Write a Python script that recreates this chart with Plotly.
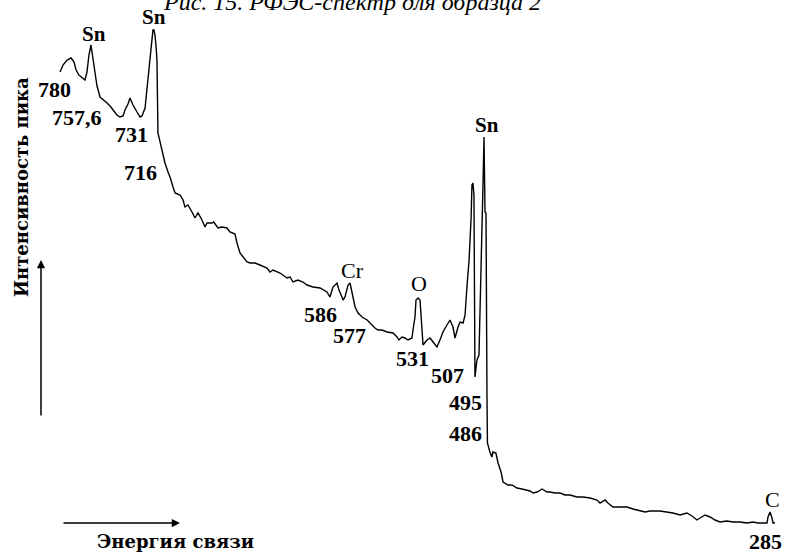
import plotly.graph_objects as go

# XPS survey spectrum: binding energy (eV) vs. peak intensity (arb. units)
binding_energy = [
    780.0, 777.9, 775.1, 772.3, 770.2, 768.8, 766.8, 764.7, 762.6, 761.2,
    759.8, 758.4, 757.0, 755.6, 754.2, 752.1, 749.3, 747.2, 745.1, 743.0,
    740.3, 738.2, 736.1, 734.7, 732.6, 731.2, 729.1, 726.3, 724.2, 722.8,
    720.7, 719.3, 718.0, 716.6, 715.9, 715.2, 714.5, 713.8, 713.1, 712.4,
    711.7, 710.3, 708.9, 706.8, 704.7, 703.3, 701.2, 699.8, 696.3, 694.2,
    692.9, 690.8, 688.0, 685.9, 683.8, 681.0, 678.9, 677.5, 674.0, 672.9,
    669.8, 667.1, 663.6, 661.5, 658.0, 656.6, 654.5, 652.4, 649.6, 647.5,
    644.0, 640.6, 635.7, 633.6, 631.5, 626.6, 624.5, 621.7, 619.6, 617.6,
    614.1, 610.6, 607.8, 603.6, 598.7, 593.9, 591.8, 589.7, 586.9, 585.5,
    583.4, 582.7, 581.3, 579.2, 577.8, 576.4, 575.7, 574.3, 572.2, 569.4,
    565.9, 562.5, 560.4, 558.3, 555.5, 552.0, 547.8, 545.0, 543.7, 541.6,
    539.5, 537.4, 534.6, 533.9, 532.5, 531.8, 530.4, 529.0, 528.3, 527.6,
    526.9, 524.1, 522.0, 519.9, 517.2, 515.1, 513.0, 510.2, 508.1, 506.0,
    504.6, 502.5, 501.1, 499.0, 497.6, 496.2, 494.8, 493.4, 492.8, 492.1,
    491.4, 490.7, 489.3, 487.9, 487.2, 485.8, 485.1, 484.4, 483.7, 483.0,
    482.3, 482.0, 480.3, 478.9, 478.2, 476.1, 474.6, 472.5, 471.1, 469.7,
    467.7, 464.9, 461.4, 457.9, 454.4, 452.3, 450.2, 447.4, 443.9, 440.5,
    438.4, 434.9, 431.4, 427.9, 424.4, 419.6, 415.4, 410.5, 405.6, 403.5,
    400.0, 398.0, 394.5, 389.6, 384.7, 382.6, 380.5, 372.1, 368.7, 361.7,
    354.7, 352.6, 347.7, 342.9, 339.4, 335.9, 333.8, 330.3, 326.8, 323.3,
    319.9, 315.0, 310.8, 305.9, 301.0, 296.9, 293.4, 289.9, 287.1, 286.4,
    285.0, 283.6, 282.9, 281.5,
]
intensity = [
    482, 489, 494, 496, 492, 484, 479, 476, 474, 482,
    499, 509, 496, 479, 468, 457, 454, 451, 448, 444,
    439, 437, 438, 444, 450, 456, 449, 442, 437, 438,
    446, 466, 486, 504, 521, 524, 524, 519, 509, 494,
    421, 412, 404, 391, 382, 377, 367, 361, 359, 354,
    347, 349, 342, 336, 341, 334, 327, 331, 331, 332,
    326, 327, 326, 322, 320, 311, 301, 297, 292, 291,
    291, 289, 286, 282, 284, 281, 279, 276, 277, 272,
    274, 272, 269, 267, 266, 262, 257, 267, 271, 264,
    257, 254, 257, 269, 271, 261, 254, 247, 241, 237,
    234, 229, 226, 224, 224, 222, 221, 217, 214, 217,
    216, 214, 216, 224, 237, 254, 256, 254, 237, 214,
    209, 214, 216, 212, 207, 214, 222, 229, 234, 227,
    216, 227, 232, 231, 239, 269, 294, 336, 369, 371,
    359, 177, 194, 199, 254, 327, 369, 417, 342, 341,
    154, 111, 102, 97, 102, 101, 91, 82, 72, 71,
    69, 69, 66, 65, 64, 63, 61, 62, 65, 62,
    62, 61, 61, 59, 59, 57, 57, 56, 54, 51,
    54, 51, 47, 47, 47, 46, 45, 42, 43, 43,
    42, 41, 39, 41, 38, 34, 36, 39, 37, 34,
    32, 33, 32, 32, 31, 32, 31, 31, 31, 37,
    42, 36, 31, 31,
]

# Peak labels: text, energy, intensity level, bold flag
peak_text = ["Sn", "Sn", "780", "757,6", "731", "716", "Cr", "586", "577",
             "O", "531", "507", "495", "486", "Sn", "C", "285"]
peak_energy = [756.3, 714.5, 783.5, 768.1, 730.5, 724.2, 576.4, 598.7, 578.5,
               529.7, 533.9, 509.5, 497.6, 497.6, 482.3, 283.6, 287.8]
peak_level = [520, 537, 465, 437, 420, 382, 284, 240, 219,
              271, 196, 179, 152, 121, 429, 55, 13]
peak_bold = [True, True, True, True, True, True, False, True, True,
             False, True, True, True, True, True, False, True]

W, H = 786, 554
E_LEFT, E_RIGHT = 821.83, 273.85

fig = go.Figure()
fig.add_trace(go.Scatter(
    x=binding_energy, y=intensity, mode="lines",
    line=dict(color="black", width=1.4), hoverinfo="skip", showlegend=False,
))

serif = "Liberation Serif"
annotations = []
for t, e, lv, b in zip(peak_text, peak_energy, peak_level, peak_bold):
    annotations.append(dict(
        x=e, y=lv, xref="x", yref="y", text=t, showarrow=False,
        xanchor="center", yanchor="middle",
        font=dict(family=serif, size=21 if t == "Sn" else 22, color="black",
                  weight="bold" if b else "normal"),
    ))

# Axis direction arrows
annotations.append(dict(
    x=41 / W, y=1 - 260 / H, xref="paper", yref="paper", text="",
    showarrow=True, ax=0, ay=157, arrowhead=2, arrowsize=1.1, arrowwidth=1.5,
    arrowcolor="black",
))
annotations.append(dict(
    x=180 / W, y=1 - 523 / H, xref="paper", yref="paper", text="",
    showarrow=True, ax=-118, ay=0, arrowhead=2, arrowsize=1.1, arrowwidth=1.5,
    arrowcolor="black",
))

# Axis captions
caption_font = dict(family="DejaVu Serif", size=18, color="black", weight="bold")
annotations.append(dict(
    x=21 / W, y=1 - 187 / H, xref="paper", yref="paper",
    text="Интенсивность пика", textangle=-90, showarrow=False,
    xanchor="center", yanchor="middle", font=caption_font,
))
annotations.append(dict(
    x=175 / W, y=1 - 541 / H, xref="paper", yref="paper",
    text="Энергия связи", showarrow=False,
    xanchor="center", yanchor="middle", font=caption_font,
))

# Figure caption along the top edge
annotations.append(dict(
    x=352 / W, y=1 - 17 / H, xref="paper", yref="paper",
    text="<i>Рис. 15. РФЭС-спектр для образца 2</i>", showarrow=False,
    xanchor="center", yanchor="bottom",
    font=dict(family=serif, size=24, color="black"),
))

fig.update_layout(
    width=W, height=H,
    margin=dict(l=0, r=0, t=0, b=0),
    paper_bgcolor="white", plot_bgcolor="white",
    xaxis=dict(range=[E_LEFT, E_RIGHT], visible=False, fixedrange=True),
    yaxis=dict(range=[0, H], visible=False, fixedrange=True),
    annotations=annotations,
)

fig.write_html("out.html", config={"displayModeBar": False})
